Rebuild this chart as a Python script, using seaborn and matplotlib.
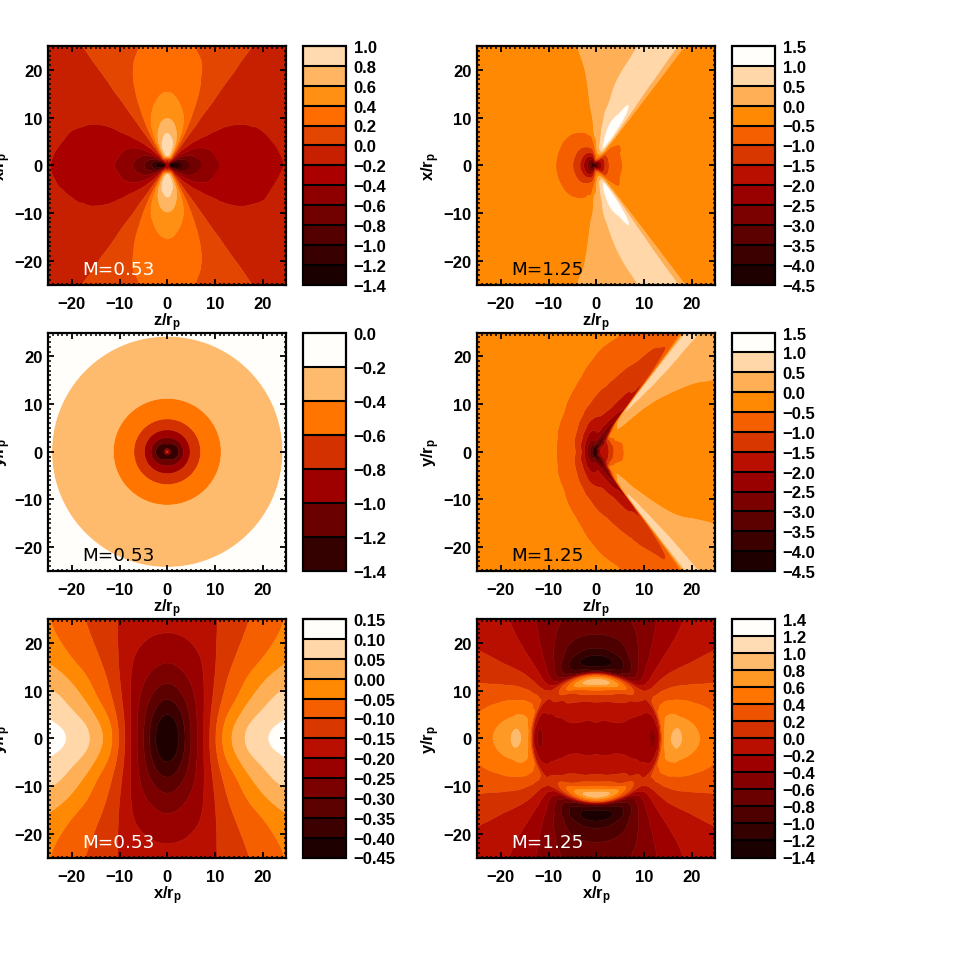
import numpy as np
import seaborn as sns
import matplotlib
matplotlib.use('Agg')
import matplotlib.pyplot as plt
import matplotlib.tri as mtri
from matplotlib.colors import LinearSegmentedColormap

# ---- values ----
# top left, polar quadrant table: rows are angle from +z, columns radius
a_radii = [0, .7, 1.5, 2, 3, 4, 5, 6, 8, 11, 14, 18, 21, 25, 30, 36]
a_angles = [0, 15, 30, 45, 55, 65, 75, 82, 90]
a_table = [
    [-.3, -1.45, -1.4, -1.3, -1.05, -.9, -.78, -.68, -.54, -.4, -.33, -.26, -.23, -.195, -.16, -.13],
    [-.3, -1.3, -1.26, -1.17, -.945, -.81, -.70, -.61, -.486, -.36, -.297, -.234, -.207, -.176, -.144, -.117],
    [-.3, -.91, -.875, -.81, -.656, -.563, -.5, -.45, -.36, -.28, -.24, -.19, -.165, -.14, -.115, -.09],
    [-.3, -.5, -.35, -.325, -.263, -.225, -.195, -.17, -.135, -.1, -.083, -.065, -.058, -.049, -.04, -.033],
    [-.3, -.3, -.05, 0., .01, .012, .012, .011, .009, .007, .006, .005, .004, .004, .003, .002],
    [-.3, -.2, .14, .38, .444, .44, .417, .384, .324, .25, .2, .162, .144, .125, .106, .088],
    [-.3, -.2, .24, .656, .79, .8, .76, .67, .56, .432, .344, .27, .23, .195, .165, .14],
    [-.3, -.25, .28, .77, .9, .893, .846, .79, .658, .508, .404, .329, .285, .245, .21, .175],
    [-.3, -.3, .3, .82, .96, .95, .9, .84, .7, .54, .43, .35, .31, .27, .23, .19],
]
a_levels = [-1.4, -1.2, -1.0, -.8, -.6, -.4, -.2, 0, .2, .4, .6, .8, 1.0]
a_ticks = ['\u22121.4', '\u22121.2', '\u22121.0', '\u22120.8', '\u22120.6', '\u22120.4', '\u22120.2',
           '0.0', '0.2', '0.4', '0.6', '0.8', '1.0']

# top right, polar table around the body: rows are angle from +z, columns radius
b_radii = [0, .7, 1.5, 3, 4.5, 6.5, 9, 12, 16, 20, 25, 31, 36]
b_angles = [0, 25, 40, 45, 52, 53.5, 55, 58, 62, 66, 70, 74, 78, 82, 86, 90, 94, 98, 105, 125, 150, 180]
b_table = [
    [-4.4, -3.0, -2.0, -1.05, -.68, -.43, -.32, -.28, -.25, -.25, -.25, -.25, -.25],
    [-4.4, -3.0, -2.0, -1.1, -.7, -.45, -.33, -.28, -.25, -.25, -.25, -.25, -.25],
    [-4.4, -2.9, -1.9, -1.1, -.72, -.52, -.34, -.28, -.25, -.25, -.25, -.25, -.25],
    [-4.4, -2.9, -1.8, -1.0, -.6, -.42, -.3, -.27, -.25, -.25, -.25, -.25, -.25],
    [-4.4, -2.8, -1.4, -.5, -.35, -.3, -.28, -.26, -.25, -.25, -.25, -.25, -.25],
    [-4.4, -2.6, -1.2, -.3, -.15, .03, .12, .2, .22, .25, .25, .25, .25],
    [-4.4, -2.5, -1.1, -.1, .15, .35, .45, .47, .47, .48, .49, .5, .5],
    [-4.4, -2.4, -1.0, -.05, .6, .95, 1.05, .98, .85, .75, .7, .66, .62],
    [-4.4, -2.3, -.9, .3, 1.1, 1.3, 1.3, 1.08, .9, .8, .72, .66, .6],
    [-4.4, -2.2, -.8, .3, 1.0, 1.2, 1.15, .95, .85, .75, .65, .6, .52],
    [-4.4, -2.1, -.7, .25, .85, .98, .98, .85, .72, .65, .53, .42, .38],
    [-4.4, -2.0, -.65, .2, .6, .8, .75, .65, .6, .5, .38, .32, .28],
    [-4.4, -1.9, -.8, .05, .35, .48, .52, .5, .42, .36, .3, .25, .22],
    [-4.4, -2.0, -.95, -.2, .15, .32, .4, .4, .32, .27, .22, .19, .16],
    [-4.4, -2.2, -1.2, -.5, -.1, .12, .2, .22, .2, .18, .15, .13, .11],
    [-4.4, -2.4, -1.5, -.8, -.4, .02, .08, .1, .1, .09, .08, .07, .06],
    [-4.4, -2.7, -1.8, -1.0, -.6, -.35, -.15, -.01, .02, .03, .04, .04, .04],
    [-4.4, -2.9, -2.0, -1.2, -.75, -.48, -.3, -.2, -.12, -.07, 0., .02, .02],
    [-4.4, -3.1, -2.2, -1.35, -.85, -.55, -.38, -.3, -.25, -.22, -.2, -.18, -.15],
    [-4.4, -3.4, -2.5, -1.5, -1.0, -.65, -.45, -.38, -.33, -.31, -.3, -.3, -.3],
    [-4.4, -3.4, -2.5, -1.5, -1.0, -.65, -.45, -.38, -.33, -.31, -.3, -.3, -.3],
    [-4.4, -3.4, -2.5, -1.5, -1.0, -.65, -.45, -.38, -.33, -.31, -.3, -.3, -.3],
]
b_levels = [-4.5, -4, -3.5, -3, -2.5, -2, -1.5, -1, -.5, 0, .5, 1, 1.5]
b_ticks = ['\u22124.5', '\u22124.0', '\u22123.5', '\u22123.0', '\u22122.5', '\u22122.0', '\u22121.5',
           '\u22121.0', '\u22120.5', '0.0', '0.5', '1.0', '1.5']

# middle left, radial profiles along z and along y
c_radii = [0, .4, .8, 1.6, 2.4, 3.4, 4.8, 7, 11.3, 16, 20, 24.2, 30, 36]
c_along_z = [-.7, -.95, -1.28, -1.35, -1.2, -1.0, -.8, -.6, -.4, -.31, -.25, -.2, -.16, -.13]
c_along_y = [-.7, -.95, -1.28, -1.2, -1.1, -.92, -.78, -.59, -.395, -.31, -.25, -.2, -.16, -.13]
c_levels = [-1.4, -1.2, -1.0, -.8, -.6, -.4, -.2, 0]
c_ticks = ['\u22121.4', '\u22121.2', '\u22121.0', '\u22120.8', '\u22120.6', '\u22120.4', '\u22120.2', '0.0']

# middle right, polar table like the top right one
d_radii = [0, .7, 1.5, 2.5, 3.5, 5, 6.5, 8, 10, 13, 16, 20, 24, 28, 33, 37]
d_angles = [0, 15, 25, 30, 35, 40, 45, 50, 52, 53, 55, 58, 62, 66, 72, 78, 90, 105, 125, 150, 165, 180]
d_table = [
    [-3.2, -4.3, -2.2, -1.75, -1.45, -.8, -.45, -.33, -.28, -.25, -.24, -.23, -.22, -.2, -.18, -.16],
    [-3.2, -4.2, -2.3, -1.8, -1.45, -.8, -.45, -.33, -.28, -.25, -.24, -.23, -.21, -.19, -.16, -.14],
    [-3.2, -4.2, -2.6, -1.9, -1.5, -.65, -.38, -.3, -.27, -.25, -.24, -.22, -.2, -.17, -.12, -.08],
    [-3.2, -4.2, -2.8, -2.1, -1.55, -.6, -.36, -.29, -.26, -.24, -.22, -.17, -.1, -.04, .03, .06],
    [-3.2, -4.2, -3.2, -2.5, -1.6, -.55, -.35, -.28, -.25, -.21, -.15, -.06, 0., .05, .1, .12],
    [-3.2, -4.3, -3.6, -2.9, -2.0, -.35, -.12, -.09, -.07, -.05, .02, .08, .12, .15, .18, .2],
    [-3.2, -4.3, -3.8, -3.2, -2.6, -.9, .03, .15, .2, .25, .28, .3, .3, .3, .3, .3],
    [-3.2, -4.3, -3.9, -3.4, -3.0, -2.4, -.8, .1, .3, .6, .65, .7, .7, .65, .6, .6],
    [-3.2, -4.3, -3.9, -3.5, -3.1, -2.7, -2.2, -1.0, -.3, .55, .6, .6, .55, .55, .5, .5],
    [-3.2, -4.3, -3.9, -3.5, -3.1, -2.8, -2.55, -2.35, -1.9, -1.5, -1.1, -.8, -.6, -.4, -.3, -.2],
    [-3.2, -4.3, -3.9, -3.5, -3.2, -3.05, -2.75, -2.5, -2.1, -1.75, -1.52, -1.3, -1.1, -.95, -.8, -.7],
    [-3.2, -4.2, -3.7, -3.3, -2.9, -2.7, -2.4, -2.2, -1.9, -1.62, -1.42, -1.22, -1.06, -.93, -.78, -.68],
    [-3.2, -4.1, -3.5, -3.0, -2.6, -2.4, -2.1, -1.95, -1.68, -1.5, -1.3, -1.1, -.93, -.8, -.68, -.6],
    [-3.2, -4.0, -3.3, -2.8, -2.4, -2.15, -1.9, -1.72, -1.5, -1.3, -1.18, -1.05, -.85, -.72, -.6, -.52],
    [-3.2, -3.9, -3.1, -2.5, -2.15, -1.9, -1.7, -1.55, -1.42, -1.2, -1.02, -.8, -.62, -.5, -.42, -.38],
    [-3.2, -3.7, -2.8, -2.3, -1.98, -1.75, -1.55, -1.4, -1.27, -1.12, -.98, -.7, -.51, -.42, -.35, -.32],
    [-3.2, -3.4, -2.9, -2.6, -2.42, -2.1, -1.7, -1.5, -1.15, -.85, -.6, -.42, -.35, -.3, -.28, -.27],
    [-3.2, -3.2, -2.85, -2.42, -2.03, -1.5, -1.15, -.95, -.7, -.48, -.36, -.3, -.28, -.27, -.26, -.26],
    [-3.2, -3.1, -2.5, -1.95, -1.48, -1.08, -.82, -.62, -.47, -.35, -.3, -.27, -.26, -.25, -.25, -.25],
    [-3.2, -2.9, -2.3, -1.65, -1.2, -.85, -.62, -.5, -.4, -.32, -.28, -.26, -.25, -.25, -.25, -.25],
    [-3.2, -2.87, -2.2, -1.5, -1.08, -.78, -.58, -.47, -.39, -.31, -.28, -.26, -.25, -.25, -.25, -.25],
    [-3.2, -2.85, -2.15, -1.4, -1.03, -.75, -.57, -.46, -.38, -.31, -.28, -.26, -.25, -.25, -.25, -.25],
]

# bottom left, quadrant table: rows are y, columns are x
e_x = [0, 1.5, 3, 4.5, 6, 7.5, 9, 10.5, 12, 14, 16, 18, 20, 22, 25]
e_y = [0, 3, 6, 9, 12, 15, 18, 21, 25]
e_table = [
    [-.45, -.44, -.39, -.32, -.26, -.21, -.14, -.083, -.03, .02, .055, .08, .1, .115, .13],
    [-.44, -.43, -.375, -.31, -.26, -.21, -.145, -.09, -.045, .005, .04, .065, .08, .095, .112],
    [-.39, -.375, -.34, -.3, -.253, -.21, -.155, -.115, -.08, -.037, .002, .028, .05, .062, .08],
    [-.345, -.33, -.305, -.275, -.245, -.207, -.165, -.125, -.097, -.07, -.032, .003, .025, .052, .066],
    [-.295, -.285, -.27, -.253, -.232, -.206, -.17, -.135, -.108, -.08, -.056, -.03, 0., .015, .036],
    [-.26, -.255, -.245, -.23, -.215, -.203, -.175, -.142, -.12, -.095, -.074, -.055, -.04, -.018, .01],
    [-.228, -.225, -.22, -.213, -.205, -.195, -.168, -.145, -.127, -.104, -.09, -.075, -.06, -.047, -.025],
    [-.206, -.205, -.203, -.2, -.19, -.18, -.165, -.15, -.133, -.113, -.097, -.083, -.07, -.058, -.04],
    [-.188, -.187, -.185, -.18, -.173, -.165, -.158, -.151, -.14, -.125, -.108, -.095, -.08, -.065, -.048],
]
e_levels = [-.45, -.4, -.35, -.3, -.25, -.2, -.15, -.1, -.05, 0, .05, .1, .15]
e_ticks = ['\u22120.45', '\u22120.40', '\u22120.35', '\u22120.30', '\u22120.25', '\u22120.20', '\u22120.15',
           '\u22120.10', '\u22120.05', '0.00', '0.05', '0.10', '0.15']

# bottom right, polar quadrant table: rows are angle from +x, columns radius
f_radii = [0, 3, 6, 8, 9, 10, 11, 12, 13, 13.5, 14, 14.5, 15, 16, 17, 18, 20, 22, 25, 30, 36]
f_angles = [0, 10, 20, 30, 40, 50, 60, 70, 80, 90]
f_table = [
    [-.32, -.31, -.3, -.31, -.33, -.36, -.38, -.45, -.25, .1, .5, .62, .72, .78, .98, .75, .66, .6, .48, .4, .35],
    [-.32, -.31, -.29, -.3, -.31, -.33, -.37, -.42, -.15, .12, .5, .62, .7, .74, .74, .7, .62, .55, .44, .35, .3],
    [-.32, -.31, -.27, -.27, -.26, -.26, -.26, -.25, -.2, 0., .45, .5, .55, .6, .57, .53, .47, .42, .34, .25, .2],
    [-.32, -.3, -.22, -.21, -.2, -.2, -.19, -.17, -.08, .08, .25, .3, .35, .37, .36, .34, .26, .2, .13, .07, 0.],
    [-.32, -.28, -.16, -.12, -.1, -.08, -.05, -.03, 0., .05, .1, .11, .12, .09, .1, .09, .07, .02, -.03, -.03, -.03],
    [-.32, -.27, -.13, -.06, -.03, 0., .05, .2, .12, .05, -.05, -.15, -.25, -.28, -.28, -.25, -.21, -.18, -.17, -.15, -.1],
    [-.32, -.26, -.11, -.03, .02, .1, .22, .42, .25, -.05, -.45, -.6, -.72, -.74, -.65, -.55, -.48, -.42, -.35, -.3, -.22],
    [-.32, -.25, -.09, -.02, .1, .22, .45, .68, .35, -.05, -.65, -.85, -.98, -1.08, -1.04, -.94, -.82, -.72, -.65, -.52, -.42],
    [-.32, -.22, -.08, .02, .17, .38, .68, .88, .47, 0., -.8, -1.0, -1.15, -1.34, -1.25, -1.05, -.87, -.78, -.66, -.54, -.43],
    [-.32, -.21, -.08, .02, .17, .4, .7, .95, .5, 0., -.85, -1.05, -1.22, -1.39, -1.32, -1.1, -.9, -.82, -.68, -.55, -.45],
]
f_levels = [-1.4, -1.2, -1.0, -.8, -.6, -.4, -.2, 0, .2, .4, .6, .8, 1.0, 1.2, 1.4]
f_ticks = ['\u22121.4', '\u22121.2', '\u22121.0', '\u22120.8', '\u22120.6', '\u22120.4', '\u22120.2',
           '0.0', '0.2', '0.4', '0.6', '0.8', '1.0', '1.2', '1.4']

PX = 954.0


def soften(Z, axis, first=1):
    # one 1-2-1 pass along an axis, takes the wobble out of hand read tables
    Z = np.moveaxis(np.array(Z, float), axis, 0)
    out = Z.copy()
    for i in range(max(first, 1), len(Z) - 1):
        out[i] = (Z[i - 1] + 2 * Z[i] + Z[i + 1]) / 4
    return np.moveaxis(out, 0, axis)


def grid_triangles(n_rows, n_cols):
    idx = np.arange(n_rows * n_cols).reshape(n_rows, n_cols)
    lower = np.c_[idx[:-1, :-1].ravel(), idx[:-1, 1:].ravel(), idx[1:, 1:].ravel()]
    upper = np.c_[idx[:-1, :-1].ravel(), idx[1:, 1:].ravel(), idx[1:, :-1].ravel()]
    return np.vstack([lower, upper])


def smooth(u, v, Z, subdiv=3):
    # matplotlib's own refiner rounds off the contours of a coarse table
    U, V = np.meshgrid(u, v)
    tri = mtri.Triangulation(U.ravel(), V.ravel(), grid_triangles(len(v), len(u)))
    interp = mtri.CubicTriInterpolator(tri, Z.ravel(), kind='min_E')
    fine, zf = mtri.UniformTriRefiner(tri).refine_field(Z.ravel(), triinterpolator=interp, subdiv=subdiv)
    return fine.x, fine.y, fine.triangles, zf


def quadrant_field(cols, rows, table):
    cols = np.array(cols, float)
    rows = np.array(rows, float)
    Z = np.array(table)
    Z = np.hstack([Z[:, :0:-1], Z])
    Z = np.vstack([Z[:0:-1], Z])
    Z = soften(soften(Z, 0), 1)
    return smooth(np.r_[-cols[:0:-1], cols], np.r_[-rows[:0:-1], rows], Z)


def polar_field(angles, radii, table, z0=0.0, row_from=None, col_from=None):
    # rows run from 0 to 180 degrees, the lower half is the mirror image;
    # one row more at each end so the seam along +z stays smooth
    angles = np.array(angles, float)
    table = np.array(table, float)
    if row_from is not None:
        table = soften(table, 0, row_from)
    if col_from is not None:
        table = soften(table, 1, col_from)
    th = np.r_[-angles[1], angles, 360 - angles[-2::-1], 360 + angles[1]]
    Z = np.vstack([table[1], table, table[-2::-1], table[1]])
    # the refiner works in table index space, the result is then put back on the plane
    ti = np.arange(len(th), dtype=float)
    ri = np.arange(len(radii), dtype=float)
    a, b, tris, zf = smooth(ri, ti, Z)
    r = np.interp(a, ri, radii)
    t = np.deg2rad(np.interp(b, ti, th))
    return z0 + r * np.cos(t), r * np.sin(t), tris, zf


def to_half(angles, table):
    # quadrant table, 0 to 90 degrees, unfolded to 0 to 180
    ang = np.array(angles, float)
    tab = np.array(table, float)
    return np.r_[ang, 180 - ang[-2::-1]], np.vstack([tab, tab[-2::-1]])


def panel_axes(fig, left, top):
    ax = fig.add_axes([left / PX, 1 - (top + 238.5) / PX, 238.5 / PX, 238.5 / PX])
    cax = fig.add_axes([(left + 255) / PX, 1 - (top + 238.5) / PX, 43 / PX, 238.5 / PX])
    return ax, cax


def draw(fig, left, top, field, levels, ticks, n_col, xlabel, ylabel, mlabel, mcolor):
    ax, cax = panel_axes(fig, left, top)
    ax.set_axisbelow(False)
    bands = len(levels) - 1
    colors = [temp_map((k + 1) / n_col) for k in range(bands)]
    if len(field) == 4:
        x, y, tris, z = field
        z = np.clip(z, levels[0] + 1e-6, levels[-1] - 1e-6)
        cs = ax.tricontourf(x, y, tris, z, levels=levels, colors=colors, antialiased=True)
    else:
        X, Y, Z = field
        Z = np.clip(Z, levels[0] + 1e-6, levels[-1] - 1e-6)
        cs = ax.contourf(X, Y, Z, levels=levels, colors=colors, antialiased=True)
    cs.set_edgecolor('face')
    cs.set_linewidth(0.4)
    ax.set_xlim(-25, 25)
    ax.set_ylim(-25, 25)
    ax.set_xticks([-20, -10, 0, 10, 20])
    ax.set_yticks([-20, -10, 0, 10, 20])
    ax.set_xticklabels(['\u221220', '\u221210', '0', '10', '20'])
    ax.set_yticklabels(['\u221220', '\u221210', '0', '10', '20'])
    ax.set_xticks(np.arange(-25, 26), minor=True)
    ax.set_yticks(np.arange(-25, 26), minor=True)
    ax.tick_params(which='major', direction='in', top=True, right=True, length=4.5, width=1.3,
                   color='black', labelsize=12)
    ax.tick_params(which='minor', direction='in', top=True, right=True, length=1.8, width=1.1,
                   color='black')
    ax.tick_params(axis='x', which='major', pad=8)
    ax.tick_params(axis='y', which='major', pad=4)
    for sp in ax.spines.values():
        sp.set_linewidth(1.6)
        sp.set_zorder(5)
    ax.text(0, -30.4, xlabel, ha='center', va='top', fontsize=12, clip_on=False)
    fig.text((left - 46) / PX, 1 - (top + 119) / PX, ylabel, rotation=90, ha='center', va='center', fontsize=12)
    ax.text(-17.9, -21.7, mlabel, color=mcolor, fontsize=13.2, family='DejaVu Sans', fontweight='normal',
            va='center', ha='left')
    cb = fig.colorbar(cs, cax=cax, drawedges=True, ticks=levels)
    cb.ax.set_yticklabels(ticks)
    cb.ax.tick_params(length=0, labelsize=12, pad=5.5)
    cb.outline.set_linewidth(1.6)
    cb.dividers.set_linewidth(1.5)
    cb.dividers.set_color('black')


sns.set_theme(style='ticks', rc={'axes.edgecolor': 'black', 'text.color': 'black',
                                 'xtick.color': 'black', 'ytick.color': 'black'})
plt.rcParams['font.family'] = ['Liberation Sans', 'DejaVu Sans']
plt.rcParams['font.weight'] = 'bold'
plt.rcParams['mathtext.fontset'] = 'custom'
plt.rcParams['mathtext.bf'] = 'Liberation Sans:bold'
plt.rcParams['mathtext.rm'] = 'Liberation Sans:bold'
plt.rcParams['mathtext.it'] = 'Liberation Sans:bold'

# red temperature colour table
temp_map = LinearSegmentedColormap.from_list('red_temp', [
    (0.0, (0, 0, 0)), (0.47, (.68, 0, 0)), (0.69, (1, .415, 0)), (0.75, (1, .53, 0)), (1.0, (1, .995, .985))])

fig = plt.figure(figsize=(9.54, 9.54), dpi=100, facecolor='white')

z_lab = r'$\mathbf{z/r_p}$'
x_lab = r'$\mathbf{x/r_p}$'
y_lab = r'$\mathbf{y/r_p}$'

ang, tab = to_half(a_angles, a_table)
draw(fig, 48, 47, polar_field(ang, a_radii, tab), a_levels, a_ticks, 13, z_lab, x_lab, 'M=0.53', 'white')

draw(fig, 477, 47, polar_field(b_angles, b_radii, b_table, z0=-0.4), b_levels, b_ticks, 12, z_lab, x_lab, 'M=1.25', 'black')

th = np.linspace(0, 360, 145)
R, T = np.meshgrid(c_radii, np.deg2rad(th))
w = np.sin(T) ** 2
Z = np.array(c_along_z) * (1 - w) + np.array(c_along_y) * w
draw(fig, 48, 333.5, (R * np.cos(T), R * np.sin(T), Z), c_levels, c_ticks, 7, z_lab, y_lab, 'M=0.53', 'black')

draw(fig, 477, 333.5, polar_field(d_angles, d_radii, d_table, z0=-0.75, row_from=12, col_from=6),
     b_levels, b_ticks, 12, z_lab, y_lab, 'M=1.25', 'black')

draw(fig, 48, 620, quadrant_field(e_x, e_y, e_table), e_levels, e_ticks, 12, x_lab, y_lab, 'M=0.53', 'white')

ang, tab = to_half(f_angles, f_table)
draw(fig, 477, 620, polar_field(ang, f_radii, tab, row_from=1, col_from=13),
     f_levels, f_ticks, 14, x_lab, y_lab, 'M=1.25', 'white')

fig.savefig('out.png', dpi=100, facecolor='white')
